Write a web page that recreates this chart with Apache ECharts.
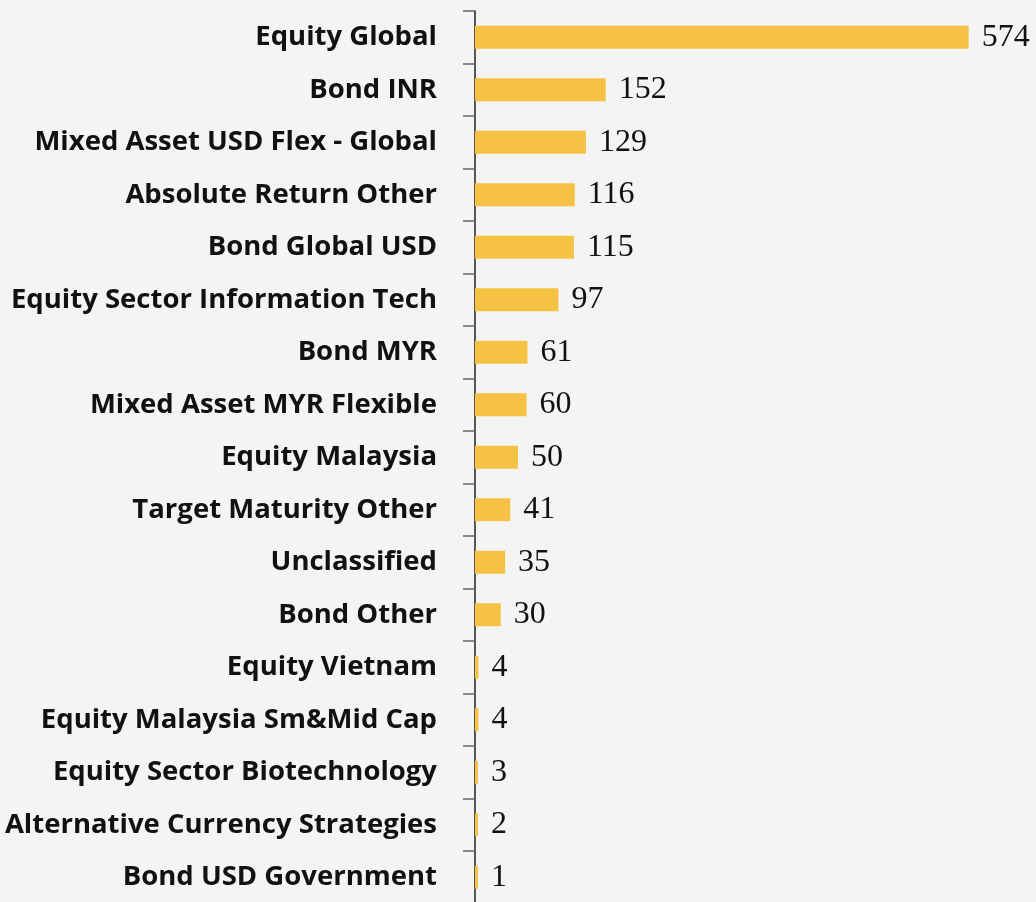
<!DOCTYPE html>
<html><head><meta charset="utf-8">
<script src="https://cdn.jsdelivr.net/npm/echarts@6/dist/echarts.min.js"></script>
<style>html,body{margin:0;padding:0;background:#f4f4f4}#c{width:1036px;height:902px}</style>
</head><body><div id="c"></div>
<script>
const categories = ["Equity Global","Bond INR","Mixed Asset USD Flex - Global","Absolute Return Other","Bond Global USD","Equity Sector Information Tech","Bond MYR","Mixed Asset MYR Flexible","Equity Malaysia","Target Maturity Other","Unclassified","Bond Other","Equity Vietnam","Equity Malaysia Sm&Mid Cap","Equity Sector Biotechnology","Alternative Currency Strategies","Bond USD Government"];
const values = [574,152,129,116,115,97,61,60,50,41,35,30,4,4,3,2,1];
const chart = echarts.init(document.getElementById('c'));
chart.setOption({
  backgroundColor:'#f4f4f4',
  animation:false,
  grid:{left:475,right:2,top:11,height:892.5,containLabel:false,outerBoundsMode:'none'},
  xAxis:{type:'value',min:0,max:650,show:false},
  yAxis:{type:'category',inverse:true,data:categories,
    axisLine:{show:true,lineStyle:{color:'#222',width:1.5}},
    axisTick:{show:true,length:12,lineStyle:{color:'#666',width:1.5}},
    axisLabel:{margin:38,fontFamily:'Open Sans',fontWeight:'bold',fontSize:27.5,color:'#111'}},
  series:[{type:'bar',data:values,barWidth:23,barMinHeight:3,itemStyle:{color:'#F5C243'},
    label:{show:true,position:'right',distance:13,fontFamily:'Liberation Serif',fontSize:32,color:'#111'}}]
});
</script></body></html>
